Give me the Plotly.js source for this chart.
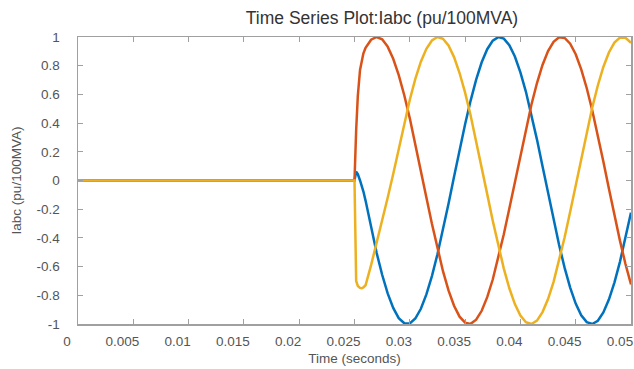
<!DOCTYPE html>
<html>
<head>
<meta charset="utf-8">
<script src="https://cdn.plot.ly/plotly-3.0.1.min.js"></script>
<style>html,body{margin:0;padding:0;background:#fff;}#chart{width:634px;height:369px;}</style>
</head>
<body>
<div id="chart"></div>
<script>
// Time (seconds)
const time = [0, 0.025, 0.02515, 0.0253, 0.0255, 0.02565, 0.0258,
  0.026, 0.0265, 0.027, 0.0275, 0.028, 0.0285, 0.029, 0.0295, 0.030, 0.0305,
  0.031, 0.0315, 0.032, 0.0325, 0.033, 0.0335, 0.034, 0.0345, 0.035, 0.0355,
  0.036, 0.0365, 0.037, 0.0375, 0.038, 0.0385, 0.039, 0.0395, 0.040, 0.0405,
  0.041, 0.0415, 0.042, 0.0425, 0.043, 0.0435, 0.044, 0.0445, 0.045, 0.0455,
  0.046, 0.0465, 0.047, 0.0475, 0.048, 0.0485, 0.049, 0.0495, 0.050];

// Phase currents Ia, Ib, Ic (pu/100MVA)
const phaseA = [0, 0, 0.062, 0.045, 0.0, -0.035, -0.075,
  -0.14, -0.333, -0.504, -0.657, -0.787, -0.888, -0.959, -0.995, -0.996, -0.962,
  -0.894, -0.794, -0.666, -0.514, -0.344, -0.162, 0.026, 0.213, 0.392, 0.557,
  0.703, 0.824, 0.915, 0.975, 0.999, 0.989, 0.943, 0.864, 0.754, 0.618,
  0.459, 0.285, 0.100, -0.088, -0.273, -0.449, -0.609, -0.746, -0.858, -0.939,
  -0.987, -1.000, -0.977, -0.920, -0.830, -0.711, -0.567, -0.402, -0.224];

const phaseB = [0, 0, 0.35, 0.59, 0.77, 0.84, 0.885,
  0.925, 0.981, 1.000, 0.984, 0.933, 0.848, 0.734, 0.594, 0.433, 0.256,
  0.070, -0.118, -0.302, -0.475, -0.632, -0.766, -0.873, -0.949, -0.991, -0.999,
  -0.970, -0.908, -0.813, -0.690, -0.542, -0.375, -0.195, -0.008, 0.180, 0.361,
  0.530, 0.679, 0.805, 0.902, 0.967, 0.998, 0.993, 0.953, 0.880, 0.775,
  0.643, 0.488, 0.316, 0.133, -0.055, -0.241, -0.419, -0.582, -0.724];

const phaseC = [0, 0, -0.70, -0.735, -0.748, -0.751, -0.745,
  -0.73, -0.59, -0.435, -0.29, -0.12, 0.045, 0.219, 0.398, 0.563, 0.708,
  0.828, 0.918, 0.976, 1.000, 0.988, 0.941, 0.860, 0.749, 0.612, 0.453,
  0.278, 0.093, -0.095, -0.280, -0.455, -0.614, -0.751, -0.861, -0.941, -0.988,
  -1.000, -0.976, -0.917, -0.826, -0.706, -0.561, -0.396, -0.217, -0.030, 0.158,
  0.340, 0.510, 0.662, 0.791, 0.892, 0.961, 0.996, 0.995, 0.960];

const xTickVals = [0, 0.005, 0.01, 0.015, 0.02, 0.025, 0.03, 0.035, 0.04, 0.045, 0.05];
const xTickText = ['0', '0.005', '0.01', '0.015', '0.02', '0.025', '0.03', '0.035', '0.04', '0.045', '0.05'];
const yTickVals = [1, 0.8, 0.6, 0.4, 0.2, 0, -0.2, -0.4, -0.6, -0.8, -1];
const yTickText = ['1', '0.8', '0.6', '0.4', '0.2', '0', '-0.2', '-0.4', '-0.6', '-0.8', '-1'];

const colors = ['#0072BD', '#D95319', '#EDB120'];
const series = [phaseA, phaseB, phaseC];

const traces = series.map((s, i) => ({
  x: time, y: s, type: 'scatter', mode: 'lines',
  line: {color: colors[i], width: 2.5},
  hoverinfo: 'skip', showlegend: false
}));

const fam = '"Liberation Sans", Arial, Helvetica, sans-serif';
const axisCommon = {
  showgrid: false, zeroline: false, showline: true, mirror: 'ticks',
  linecolor: '#a0a0a0', linewidth: 1.5, ticks: 'inside', ticklen: 5,
  tickcolor: '#a0a0a0', tickwidth: 1, tickfont: {family: fam, size: 13.5, color: '#555555'},
  ticklabeloverflow: 'allow'
};

const layout = {
  width: 634, height: 369,
  margin: {l: 78, r: 3, t: 37, b: 45},
  paper_bgcolor: '#ffffff', plot_bgcolor: '#ffffff',
  font: {family: fam, color: '#444444'},
  title: {text: 'Time Series Plot:Iabc (pu/100MVA)', font: {family: fam, size: 17.5, color: '#333333'},
    x: 0.6025, xref: 'container', xanchor: 'center', y: 0.952, yref: 'container', yanchor: 'middle'},
  xaxis: Object.assign({}, axisCommon, {
    range: [0, 0.0500001], tickmode: 'array', tickvals: xTickVals, ticktext: xTickText,
    ticklabelshift: -11, ticklabelstandoff: 4,
    title: {text: 'Time (seconds)', font: {family: fam, size: 13.5, color: '#555555'}, standoff: 6}
  }),
  yaxis: Object.assign({}, axisCommon, {
    range: [-1, 1], tickmode: 'array', tickvals: yTickVals, ticktext: yTickText, ticklabelstandoff: 14,
    title: {text: 'Iabc (pu/100MVA)', font: {family: fam, size: 13.5, color: '#555555'}, standoff: 12}
  })
};

Plotly.newPlot('chart', traces, layout, {staticPlot: true, displayModeBar: false});
</script>
</body>
</html>
